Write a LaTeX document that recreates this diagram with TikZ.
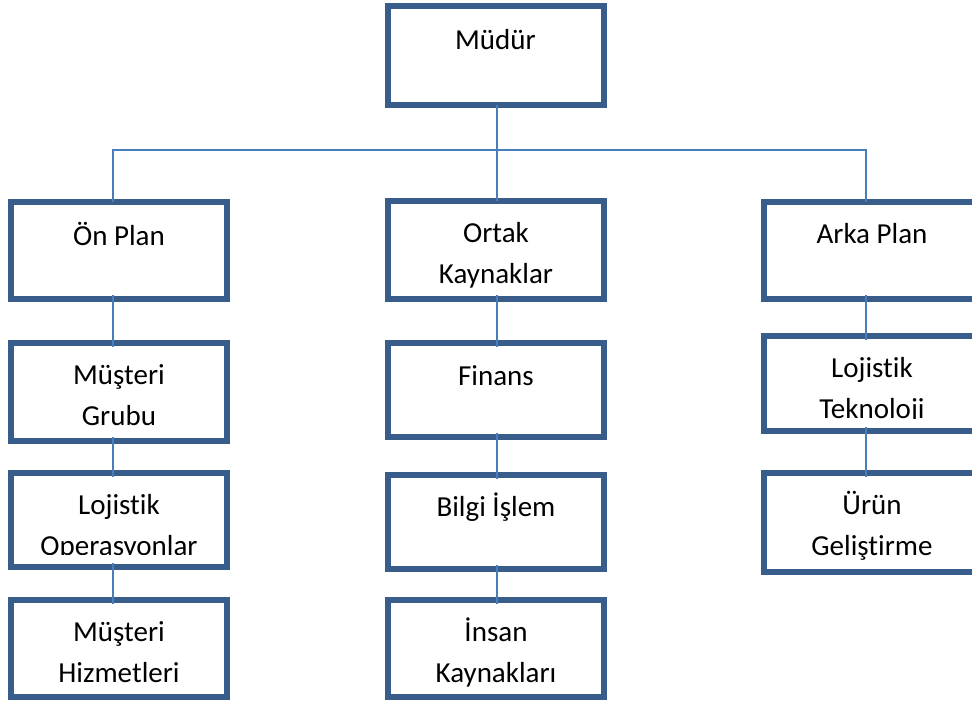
\documentclass[tikz,border=0pt]{standalone}
\usepackage{fontspec}
\setmainfont{Carlito}[Ligatures={NoCommon,NoContextual}]
\definecolor{framecol}{HTML}{385D8A}
\definecolor{linecol}{HTML}{4A7EBB}
% top-aligned box text: #1 = inner height, #2 = lines
\newcommand\btext[2]{\parbox[c][#1][t]{216pt}{\centering\rule{0pt}{41pt}#2\par}}
\tikzset{
  box/.style={inner sep=0pt, outer sep=0pt, font=\fontsize{29pt}{41pt}\selectfont},
  frame/.style={draw=framecol, line width=6pt},
  conn/.style={draw=linecol, line width=2pt},
  link/.style={conn, shorten <=-4pt, shorten >=-4pt},
  margin/.style={fill=white}
}
\begin{document}
\begin{tikzpicture}[x=1pt, y=-1pt]
\useasboundingbox (0,0) rectangle (972,701);
\clip (0,0) rectangle (972,701);

% head
\node[box] (mudur)  at (495.5,55.5) {\btext{99pt}{\raisebox{0pt}[44pt]{}Müdür}};

% left column
\node[box] (onplan) at (119,250.5) {\btext{97pt}{\raisebox{0pt}[43pt]{}Ön Plan}};
\node[box] (mgrubu) at (119,392)   {\btext{98pt}{Müşteri\\Grubu}};
\node[box] (lojop)  at (119,520)   {\btext{94pt}{Lojistik\\Operasyonlar}};
\node[box] (mhizm)  at (119,648.5) {\btext{97pt}{Müşteri\\Hizmetleri}};

% middle column
\node[box] (ortak)  at (496,250)   {\btext{98pt}{Ortak\\Kaynaklar}};
\node[box] (finans) at (496,390)   {\btext{94pt}{\raisebox{0pt}[42pt]{}Finans}};
\node[box] (bilgi)  at (496,522)   {\btext{94pt}{Bilgi İşlem}};
\node[box] (insan)  at (496,648.5) {\btext{97pt}{İnsan\\Kaynakları}};

% right column
\node[box] (arka)   at (872,250.5) {\btext{97pt}{Arka Plan}};
\node[box] (lojtek) at (872,383.5) {\btext{95pt}{Lojistik\\Teknoloji}};
\node[box] (urun)   at (872,522.5) {\btext{99pt}{Ürün\\Geliştirme}};

% inner bottom margin of the fuller boxes hides the descenders
\foreach \n in {lojop,lojtek}
  \fill[margin] (\n.south west) rectangle ([yshift=12pt]\n.south east);

% frames drawn over the text
\foreach \n in {mudur,onplan,mgrubu,lojop,mhizm,ortak,finans,bilgi,insan,arka,lojtek,urun}
  \draw[frame] (\n.north west) rectangle (\n.south east);

% branch points of the connectors
\coordinate (cL) at (113,150);
\coordinate (cM) at (497,150);
\coordinate (cR) at (866,150);

\draw[conn] (mudur.south -| cM) -- (cM);
\draw[conn] (onplan.north -| cL) |- (cR) -- (arka.north -| cR);
\draw[conn] (cM) -- (ortak.north -| cM);

\draw[link] (onplan.south -| cL) -- (mgrubu.north -| cL);
\draw[link] (mgrubu.south -| cL) -- (lojop.north -| cL);
\draw[link] (lojop.south -| cL)  -- (mhizm.north -| cL);

\draw[link] (ortak.south -| cM)  -- (finans.north -| cM);
\draw[link] (finans.south -| cM) -- (bilgi.north -| cM);
\draw[link] (bilgi.south -| cM)  -- (insan.north -| cM);

\draw[link] (arka.south -| cR)   -- (lojtek.north -| cR);
\draw[link] (lojtek.south -| cR) -- (urun.north -| cR);
\end{tikzpicture}
\end{document}
